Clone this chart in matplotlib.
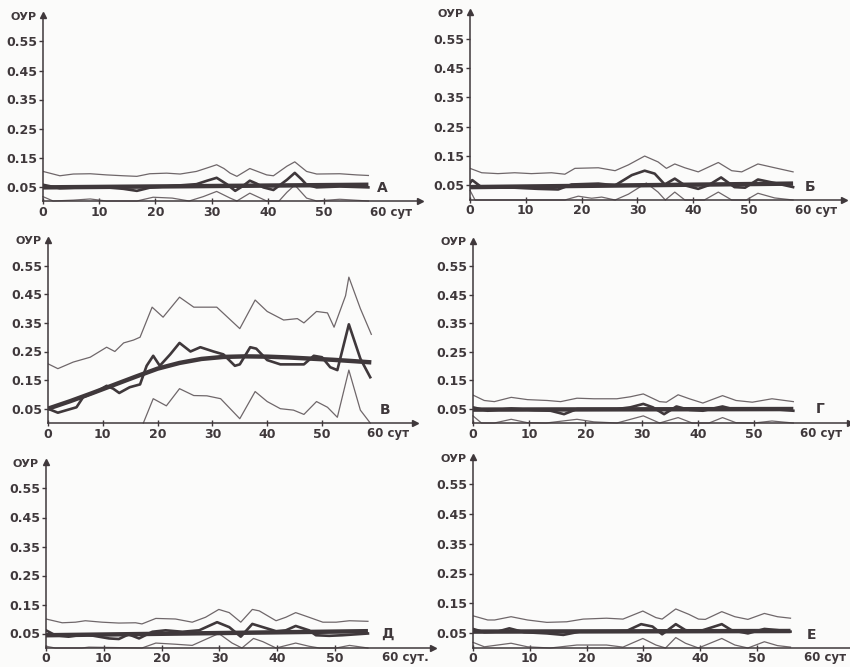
import matplotlib
matplotlib.use("Agg")
import matplotlib.pyplot as plt

# ---- data (days, ОУР) ----

# panel А
a_up_x = [0, 3, 5.4, 8.4, 11.3, 14.3, 16.7, 19, 22, 24.4, 27.3, 29.2, 30.9, 32.2, 33.3, 34.5, 36.8, 39.8, 41, 43.4, 44.8, 46.9, 48.7, 52.8, 55.8, 57.9]
a_up_y = [0.102, 0.087, 0.093, 0.094, 0.090, 0.087, 0.085, 0.094, 0.096, 0.093, 0.102, 0.114, 0.125, 0.112, 0.096, 0.085, 0.112, 0.090, 0.087, 0.120, 0.135, 0.102, 0.093, 0.094, 0.090, 0.088]
a_obs_x = [0, 3, 8.4, 11.3, 14.3, 16.7, 19, 23, 27.3, 29.2, 30.9, 32.7, 34.2, 35.6, 36.8, 38, 39.2, 41, 43.4, 44.8, 46, 46.9, 48.7, 52.8, 57.9]
a_obs_y = [0.056, 0.044, 0.048, 0.047, 0.042, 0.035, 0.046, 0.052, 0.058, 0.070, 0.080, 0.058, 0.035, 0.052, 0.070, 0.060, 0.047, 0.038, 0.073, 0.097, 0.075, 0.056, 0.047, 0.050, 0.047]
a_low_x = [0, 1.8, 5.4, 8.4, 11.3, 16.7, 19.6, 23, 26, 28.5, 30.9, 33.3, 34.5, 36.8, 39.8, 42, 43.4, 44.8, 46.9, 48.7, 52.8, 57.9]
a_low_y = [0.015, 0, 0.003, 0.007, 0, 0, 0.013, 0.010, 0, 0.015, 0.033, 0.010, 0, 0.027, 0, 0, 0.030, 0.055, 0.010, 0, 0.006, 0]
a_tr_x = [0, 57.9]
a_tr_y = [0.047, 0.056]

# panel Б
b_up_x = [0, 2.1, 5, 8, 11, 14.6, 17, 18.8, 23, 26, 28.4, 31.3, 33.7, 35.2, 36.7, 38.5, 40.9, 44.5, 46.9, 48.7, 51.6, 54.6, 57.9]
b_up_y = [0.108, 0.093, 0.090, 0.093, 0.090, 0.093, 0.088, 0.108, 0.110, 0.100, 0.120, 0.150, 0.130, 0.108, 0.123, 0.110, 0.096, 0.128, 0.100, 0.096, 0.123, 0.110, 0.096]
b_obs_x = [0, 0.4, 2.1, 8, 12.2, 15.8, 18.2, 23, 26, 29, 31.3, 33.1, 34.9, 36.7, 38.5, 40.9, 42.7, 45, 47.4, 49.3, 51.6, 54.6, 57.9]
b_obs_y = [0.058, 0.068, 0.043, 0.042, 0.038, 0.036, 0.053, 0.056, 0.050, 0.085, 0.100, 0.090, 0.053, 0.073, 0.050, 0.038, 0.050, 0.077, 0.044, 0.042, 0.070, 0.058, 0.044]
b_low_x = [0, 0.9, 8, 17, 19.4, 21.8, 23.6, 26, 28.4, 31.6, 33.7, 35, 36.7, 38.5, 42, 44.5, 46.9, 49.5, 51.6, 54.6, 57.9]
b_low_y = [0.033, 0, 0, 0, 0.013, 0.006, 0.010, 0, 0.020, 0.058, 0.027, 0, 0.027, 0, 0, 0.027, 0, 0, 0.023, 0.007, 0]
b_tr_x = [0, 57.9]
b_tr_y = [0.044, 0.056]

# panel В
v_up_x = [0, 1.8, 4.6, 7.7, 10.7, 12.2, 13.8, 15.6, 16.8, 19, 21, 24, 26.6, 30.8, 35, 37.8, 40, 43, 45.5, 46.7, 49, 51, 52.2, 54.3, 54.9, 57, 59]
v_up_y = [0.207, 0.190, 0.213, 0.230, 0.265, 0.250, 0.280, 0.290, 0.300, 0.405, 0.370, 0.440, 0.405, 0.405, 0.330, 0.430, 0.390, 0.360, 0.365, 0.350, 0.390, 0.385, 0.335, 0.445, 0.510, 0.400, 0.310]
v_obs_x = [0, 1.8, 3.4, 5.2, 6.4, 8.9, 10.7, 11.9, 13, 14.9, 16.8, 18, 19.2, 20.4, 22.3, 24, 26, 27.8, 30.2, 32, 34.1, 35, 36.9, 38, 40, 42.4, 44.8, 46.7, 48.5, 50, 51.5, 52.8, 54.9, 57, 58.8]
v_obs_y = [0.050, 0.036, 0.045, 0.055, 0.090, 0.110, 0.130, 0.120, 0.105, 0.125, 0.135, 0.200, 0.235, 0.200, 0.240, 0.280, 0.250, 0.265, 0.250, 0.240, 0.200, 0.205, 0.265, 0.260, 0.220, 0.205, 0.205, 0.205, 0.235, 0.230, 0.195, 0.185, 0.345, 0.225, 0.160]
v_low_x = [17.4, 19.2, 21.6, 24, 26.6, 29, 31.5, 34, 35, 37.8, 40, 42.4, 44.8, 46.7, 49, 51, 52.8, 54.9, 57, 58.8]
v_low_y = [0.0, 0.085, 0.060, 0.120, 0.096, 0.095, 0.085, 0.035, 0.015, 0.110, 0.075, 0.050, 0.045, 0.030, 0.075, 0.055, 0.020, 0.185, 0.045, 0.0]
v_tr_x = [0, 4, 8, 12, 16, 20, 24, 28, 32, 36, 40, 44, 48, 52, 56, 59]
v_tr_y = [0.050, 0.076, 0.104, 0.133, 0.162, 0.190, 0.210, 0.224, 0.231, 0.233, 0.232, 0.229, 0.225, 0.221, 0.216, 0.212]

# panel Г
g_up_x = [0, 2, 3.8, 6.8, 9.7, 13.2, 15.6, 18.5, 21.5, 25.6, 28, 30.3, 33.2, 34.4, 36.5, 38.5, 40.9, 44.4, 46.8, 49.7, 53.2, 57]
g_up_y = [0.098, 0.079, 0.075, 0.090, 0.082, 0.079, 0.075, 0.087, 0.085, 0.085, 0.092, 0.102, 0.075, 0.073, 0.099, 0.085, 0.070, 0.096, 0.079, 0.073, 0.085, 0.075]
g_obs_x = [0, 2.6, 6.8, 10.9, 13.8, 16.2, 18.5, 25.6, 28, 30.3, 32, 34, 36.2, 38.5, 40.9, 44.4, 46.2, 53.2, 57]
g_obs_y = [0.055, 0.043, 0.051, 0.045, 0.043, 0.031, 0.049, 0.049, 0.055, 0.067, 0.055, 0.031, 0.058, 0.046, 0.043, 0.058, 0.049, 0.049, 0.043]
g_low_x = [0, 1.5, 3.8, 6.8, 9.7, 13, 18.5, 21.5, 25.6, 30.3, 33.2, 36.5, 39, 42, 44.4, 46.8, 50, 53.2, 57]
g_low_y = [0.025, 0, 0, 0.013, 0.001, 0, 0.013, 0.004, 0, 0.025, 0, 0.019, 0, 0, 0.019, 0.001, 0, 0.007, 0]
g_tr_x = [0, 57]
g_tr_y = [0.047, 0.049]

# panel Д
d_up_x = [0, 2.8, 5.1, 6.8, 9.7, 12.6, 15.5, 16.6, 19, 22.4, 25.3, 27.6, 29.9, 31.7, 33.7, 35.7, 36.9, 39.8, 41.5, 43.2, 45.5, 47.9, 50.2, 52.5, 55.7]
d_up_y = [0.100, 0.087, 0.089, 0.094, 0.089, 0.086, 0.087, 0.083, 0.102, 0.100, 0.089, 0.106, 0.133, 0.122, 0.089, 0.133, 0.128, 0.094, 0.106, 0.122, 0.106, 0.089, 0.089, 0.094, 0.092]
d_obs_x = [0, 1.6, 3.9, 6.8, 10.9, 12.6, 14.3, 16.1, 18.4, 20.7, 23.6, 26.5, 29.6, 31.7, 33.7, 35.7, 37.5, 39.8, 41.5, 43.2, 45.5, 46.7, 49, 51.3, 55.7]
d_obs_y = [0.061, 0.044, 0.039, 0.047, 0.033, 0.031, 0.047, 0.033, 0.056, 0.061, 0.056, 0.061, 0.089, 0.072, 0.039, 0.083, 0.072, 0.058, 0.061, 0.076, 0.061, 0.044, 0.042, 0.044, 0.050]
d_low_x = [0, 1.6, 6.2, 7.4, 16.6, 19, 22.4, 25.3, 29.9, 32.2, 33.9, 35.9, 37.5, 39.8, 43.2, 45.5, 47.3, 50.2, 52.5, 55.7]
d_low_y = [0.006, 0, 0, 0.003, 0, 0.017, 0.013, 0.009, 0.050, 0.017, 0, 0.033, 0.022, 0, 0.017, 0.006, 0, 0, 0.009, 0]
d_tr_x = [0, 55.7]
d_tr_y = [0.044, 0.058]

# panel Е
e_up_x = [0, 2.6, 3.8, 6.7, 9.6, 13, 16.5, 19.4, 23.5, 26.4, 29.9, 32.2, 33.3, 35.7, 38, 39.7, 40.9, 43.8, 46.1, 48.4, 51.3, 53.6, 55.9]
e_up_y = [0.108, 0.094, 0.094, 0.105, 0.094, 0.086, 0.088, 0.097, 0.100, 0.097, 0.124, 0.102, 0.097, 0.131, 0.113, 0.097, 0.096, 0.122, 0.105, 0.096, 0.116, 0.105, 0.100]
e_obs_x = [0, 2, 4.3, 6.4, 9, 13, 15.9, 18.8, 23.5, 27, 29.6, 31.6, 33.3, 35.7, 37.4, 39.7, 43.8, 45.5, 48.4, 51.3, 53.6, 55.9]
e_obs_y = [0.064, 0.053, 0.055, 0.066, 0.053, 0.049, 0.044, 0.055, 0.055, 0.057, 0.080, 0.072, 0.046, 0.080, 0.060, 0.055, 0.080, 0.060, 0.049, 0.064, 0.060, 0.055]
e_low_x = [0, 2, 6.7, 9.6, 13.6, 18.3, 23.5, 26.4, 29.9, 32.2, 33.9, 35.7, 37.4, 39.7, 43.8, 46.1, 48.4, 51.3, 53.6, 55.9]
e_low_y = [0.019, 0.004, 0.016, 0.004, 0, 0.010, 0.010, 0.003, 0.032, 0.010, 0, 0.035, 0.016, 0, 0.032, 0.010, 0, 0.021, 0.008, 0.003]
e_tr_x = [0, 55.9]
e_tr_y = [0.055, 0.057]

y_ticks = [0.05, 0.15, 0.25, 0.35, 0.45, 0.55]
x_ticks = [0, 10, 20, 30, 40, 50]

# ---- figure ----
W, H = 850, 667
fig = plt.figure(figsize=(W / 100, H / 100), dpi=100)
fig.patch.set_facecolor("#fbfbfa")

ink = "#3f383b"
thin = "#6f676a"


def draw_panel(ox, oy, ppd, ppt, letter, lpos, unit, up, obs, low, tr, lab_gap=11):
    # ox, oy: axis origin in pixels (oy from top); ppd px per day; ppt px per 0.1
    ax = fig.add_axes([ox / W, (H - oy) / H, 67 * ppd / W, 6.4 * ppt / H])
    ax.set_xlim(0, 67)
    ax.set_ylim(0, 0.64)
    ax.patch.set_alpha(0)
    for s in ["top", "right"]:
        ax.spines[s].set_visible(False)
    for s in ["left", "bottom"]:
        ax.spines[s].set_color(ink)
        ax.spines[s].set_linewidth(1.1)
    ax.plot(1, 0, ">", transform=ax.transAxes, clip_on=False, ms=4, color=ink)
    ax.plot(0, 1, "^", transform=ax.transAxes, clip_on=False, ms=4, color=ink)

    ax.set_yticks(y_ticks)
    ax.set_yticklabels(["%.2f" % v for v in y_ticks])
    ax.set_xticks(x_ticks)
    ax.set_xticklabels([])
    ax.tick_params(axis="y", direction="out", length=3, width=1, color=ink,
                   labelsize=9, labelcolor=ink, pad=1)
    ax.tick_params(axis="x", direction="inout", length=4, width=1, color=ink)
    for lab in ax.get_yticklabels():
        lab.set_fontweight("bold")

    # x tick labels placed by hand so they sit close to the baseline like the scan
    ylab = -lab_gap / ppt * 0.1
    for v in x_ticks:
        ax.text(v, ylab, str(v), ha="center", va="center", fontsize=9,
                fontweight="bold", color=ink, clip_on=False)
    ax.text(58.2, ylab, "60 " + unit, ha="left", va="center", fontsize=8.5,
            fontweight="bold", color=ink, clip_on=False)

    ax.text(-1.2, 0.635, "ОУР", ha="right", va="center", fontsize=8,
            fontweight="bold", color=ink, clip_on=False)

    ax.plot(up[0], up[1], color=thin, lw=0.9, solid_joinstyle="round")
    ax.plot(low[0], low[1], color=thin, lw=0.9, solid_joinstyle="round", clip_on=False)
    ax.plot(obs[0], obs[1], color=ink, lw=1.9, solid_joinstyle="round")
    ax.plot(tr[0], tr[1], color=ink, lw=3.2, solid_capstyle="butt")

    ax.text(lpos[0], lpos[1], letter, ha="left", va="center", fontsize=10,
            fontweight="bold", color=ink)


draw_panel(43, 201, 5.62, 29.0, "А", (59.5, 0.045), "сут",
           (a_up_x, a_up_y), (a_obs_x, a_obs_y), (a_low_x, a_low_y), (a_tr_x, a_tr_y))
draw_panel(470, 200, 5.58, 29.3, "Б", (60.0, 0.045), "сут",
           (b_up_x, b_up_y), (b_obs_x, b_obs_y), (b_low_x, b_low_y), (b_tr_x, b_tr_y))
draw_panel(48, 423, 5.48, 28.6, "В", (60.5, 0.045), "сут",
           (v_up_x, v_up_y), (v_obs_x, v_obs_y), (v_low_x, v_low_y), (v_tr_x, v_tr_y))
draw_panel(473, 423, 5.62, 28.5, "Г", (61.0, 0.05), "сут",
           (g_up_x, g_up_y), (g_obs_x, g_obs_y), (g_low_x, g_low_y), (g_tr_x, g_tr_y))
draw_panel(46, 648, 5.78, 29.0, "Д", (58.0, 0.05), "сут.",
           (d_up_x, d_up_y), (d_obs_x, d_obs_y), (d_low_x, d_low_y), (d_tr_x, d_tr_y),
           lab_gap=10)
draw_panel(473, 648, 5.68, 29.8, "Е", (58.7, 0.045), "сут",
           (e_up_x, e_up_y), (e_obs_x, e_obs_y), (e_low_x, e_low_y), (e_tr_x, e_tr_y),
           lab_gap=10)

fig.savefig("out.png", dpi=100, facecolor=fig.get_facecolor())
